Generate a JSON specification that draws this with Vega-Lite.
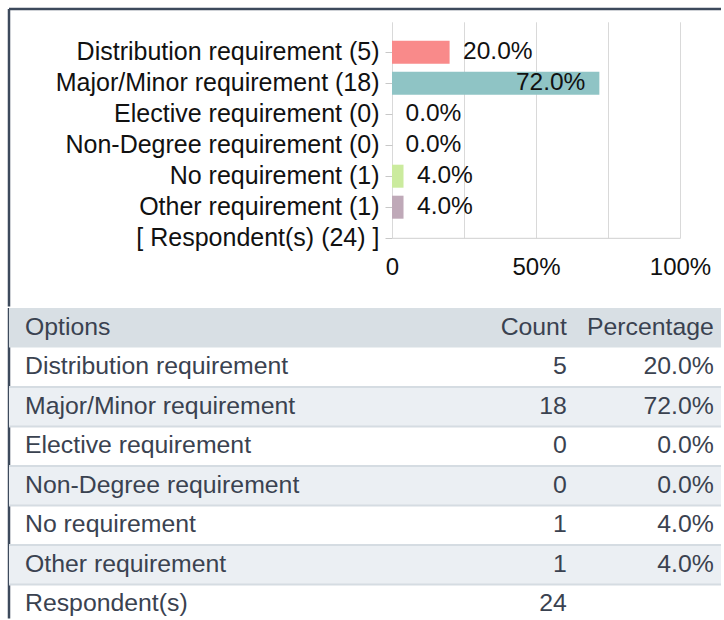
{
  "$schema": "https://vega.github.io/schema/vega-lite/v6.json",
  "padding": {"left": 7, "top": 7, "right": 0, "bottom": 0},
  "spacing": -5,
  "background": "white",
  "config": {"font": "Liberation Sans", "view": {"stroke": null}},
  "datasets": {
    "bars": [
      {"option": "Distribution requirement (5)", "pct": 0.2},
      {"option": "Major/Minor requirement (18)", "pct": 0.72},
      {"option": "Elective requirement (0)", "pct": 0},
      {"option": "Non-Degree requirement (0)", "pct": 0},
      {"option": "No requirement (1)", "pct": 0.04},
      {"option": "Other requirement (1)", "pct": 0.04},
      {"option": "[ Respondent(s) (24) ]"}
    ],
    "table": [
      {"option": "Options", "count": "Count", "pct": "Percentage"},
      {"option": "Distribution requirement", "count": 5, "pct": "20.0%"},
      {"option": "Major/Minor requirement", "count": 18, "pct": "72.0%"},
      {"option": "Elective requirement", "count": 0, "pct": "0.0%"},
      {"option": "Non-Degree requirement", "count": 0, "pct": "0.0%"},
      {"option": "No requirement", "count": 1, "pct": "4.0%"},
      {"option": "Other requirement", "count": 1, "pct": "4.0%"},
      {"option": "Respondent(s)", "count": 24}
    ]
  },
  "vconcat": [
    {
      "width": 712,
      "height": 297.5,
      "view": {"stroke": "#3d4a5c", "strokeWidth": 2.5, "strokeDash": [712, 1009.5, 297.5, 0]},
      "data": {"name": "bars"},
      "encoding": {
        "y": {
          "field": "option", "type": "nominal", "sort": null,
          "scale": {
            "domain": ["Distribution requirement (5)", "Major/Minor requirement (18)", "Elective requirement (0)", "Non-Degree requirement (0)", "No requirement (1)", "Other requirement (1)", "[ Respondent(s) (24) ]"],
            "range": [31.7, 240.7], "paddingInner": 0.2581, "paddingOuter": 0, "round": false
          },
          "axis": {
            "orient": "left", "offset": -383, "domain": false, "grid": false,
            "ticks": true, "tickSize": 7, "tickColor": "#c8c8c8", "tickWidth": 1,
            "labelPadding": 6, "labelFontSize": 25, "labelColor": "#111111", "labelLimit": 0,
            "labelBaseline": "middle", "title": null
          }
        },
        "x": {
          "field": "pct", "type": "quantitative",
          "scale": {"domain": [0, 1], "range": [383, 671], "nice": false, "zero": true},
          "axis": {
            "orient": "bottom", "offset": -68.7, "values": [0, 0.25, 0.5, 0.75, 1],
            "grid": false, "tickSize": -216, "tickColor": "#d9d9d9", "tickWidth": 1,
            "domainColor": "#cfcfcf", "domainWidth": 1,
            "labelExpr": "datum.value == 0 ? '0' : (datum.value == 0.5 || datum.value == 1) ? format(datum.value, '.0%') : ''",
            "labelFontSize": 24, "labelColor": "#111111", "labelPadding": 252.7,
            "labelBaseline": "alphabetic", "labelFlush": false, "labelOverlap": false, "title": null
          }
        }
      },
      "layer": [
        {
          "mark": {"type": "bar"},
          "encoding": {
            "color": {
              "field": "option", "type": "nominal", "legend": null,
              "scale": {
                "domain": ["Distribution requirement (5)", "Major/Minor requirement (18)", "Elective requirement (0)", "Non-Degree requirement (0)", "No requirement (1)", "Other requirement (1)", "[ Respondent(s) (24) ]"],
                "range": ["#f98a8a", "#8fc4c5", "#f3c58a", "#9fb8dc", "#cbeb9e", "#bfa9b8", "#cccccc"]
              }
            }
          }
        },
        {
          "transform": [{"filter": "isValid(datum.pct) && datum.pct < 0.5"}],
          "mark": {"type": "text", "align": "left", "baseline": "middle", "dx": 13.5, "fontSize": 24.5, "color": "#111111"},
          "encoding": {"text": {"field": "pct", "type": "quantitative", "format": ".1%"}}
        },
        {
          "transform": [{"filter": "isValid(datum.pct) && datum.pct >= 0.5"}],
          "mark": {"type": "text", "align": "right", "baseline": "middle", "dx": -14, "fontSize": 24.5, "color": "#111111"},
          "encoding": {"text": {"field": "pct", "type": "quantitative", "format": ".1%"}}
        }
      ]
    },
    {
      "width": 712,
      "height": 310.5,
      "view": {"stroke": "#3d4a5c", "strokeWidth": 2.5, "strokeDash": [0, 1734.5, 310.5, 0]},
      "data": {"name": "table"},
      "encoding": {
        "y": {
          "field": "option", "type": "nominal", "sort": null,
          "scale": {
            "domain": ["Options", "Distribution requirement", "Major/Minor requirement", "Elective requirement", "Non-Degree requirement", "No requirement", "Other requirement", "Respondent(s)"],
            "range": [0, 316], "paddingInner": 0, "paddingOuter": 0, "round": false
          },
          "axis": {
            "orient": "left", "domain": false, "ticks": false, "grid": false,
            "labelAlign": "left", "labelPadding": -15.5, "labelFontSize": 24.8,
            "labelColor": "#3a4250", "labelLimit": 0, "labelBaseline": "middle", "title": null
          }
        }
      },
      "layer": [
        {
          "transform": [{"filter": {"field": "option", "equal": "Options"}}],
          "mark": {"type": "rect", "color": "#d8dfe4", "xOffset": 3.5, "x2Offset": 3.5, "clip": true}
        },
        {
          "transform": [{"filter": {"field": "option", "oneOf": ["Major/Minor requirement", "Non-Degree requirement", "Other requirement"]}}],
          "mark": {"type": "rect", "color": "#ebeff3", "xOffset": 3.5, "x2Offset": 3.5, "clip": true}
        },
        {
          "transform": [{"filter": {"field": "option", "oneOf": ["Major/Minor requirement", "Elective requirement", "Non-Degree requirement", "No requirement", "Other requirement", "Respondent(s)"]}}],
          "mark": {"type": "rule", "color": "#d5dce2", "strokeWidth": 2, "xOffset": 3.5, "x2Offset": 3.5, "clip": true},
          "encoding": {"y": {"field": "option", "type": "nominal", "bandPosition": 0}}
        },
        {
          "mark": {"type": "text", "align": "right", "baseline": "middle", "fontSize": 24.8, "color": "#3a4250"},
          "encoding": {
            "x": {
              "datum": "Count", "type": "nominal",
              "scale": {"type": "point", "domain": ["Count", "Percentage"], "range": [557.8, 704.8], "padding": 0, "round": false},
              "axis": null
            },
            "text": {"field": "count", "type": "nominal"}
          }
        },
        {
          "transform": [{"filter": "datum.pct != null"}],
          "mark": {"type": "text", "align": "right", "baseline": "middle", "fontSize": 24.8, "color": "#3a4250"},
          "encoding": {
            "x": {"datum": "Percentage", "type": "nominal", "axis": null},
            "text": {"field": "pct", "type": "nominal"}
          }
        }
      ]
    }
  ]
}
